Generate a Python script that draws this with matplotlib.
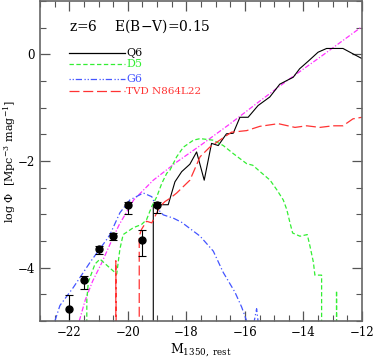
import numpy as np
import matplotlib.pyplot as plt
from matplotlib.ticker import MultipleLocator

plt.rcParams['font.family'] = ['DejaVu Serif']
plt.rcParams['mathtext.fontset'] = 'dejavuserif'

# Q6 (black solid)
q6_x = [-19.13, -19.13, -18.62, -18.39, -18.16, -17.88, -17.65, -17.39, -17.14, -16.91,
        -16.63, -16.40, -16.17, -15.89, -15.55, -15.15, -14.81, -14.53, -14.35, -14.13,
        -13.84, -13.50, -13.21, -12.65, -12.31, -12.00]
q6_y = [-7.0, -2.82, -2.82, -2.39, -2.20, -2.06, -1.83, -2.36, -1.67, -1.71,
        -1.49, -1.48, -1.18, -1.18, -0.96, -0.80, -0.56, -0.48, -0.43, -0.27,
        -0.13, 0.04, 0.11, 0.11, 0.01, -0.08]

# D5 (green dashed)
d5_x = [-21.41, -21.40, -21.35, -21.12, -20.95, -20.38, -20.27, -20.16, -19.81, -19.53,
        -19.36, -19.18, -19.01, -18.84, -18.67, -18.56, -18.33, -18.10, -17.76, -17.53,
        -17.08, -16.74, -16.40, -15.94, -15.73, -15.48, -15.14, -14.91, -14.69, -14.57,
        -14.46, -14.37, -14.12, -13.87, -13.78, -13.66, -13.61, -13.38, -13.38, -12.87,
        -12.87, -12.86]
d5_y = [-7.0, -4.60, -4.27, -3.93, -3.84, -4.12, -3.65, -3.38, -3.25, -3.19,
        -3.10, -2.85, -2.67, -2.42, -2.23, -2.17, -1.92, -1.74, -1.61, -1.58,
        -1.61, -1.71, -1.86, -2.05, -2.08, -2.20, -2.36, -2.54, -2.73, -2.91,
        -3.16, -3.35, -3.41, -3.38, -3.59, -3.90, -4.14, -4.14, -7.0, -7.0,
        -4.43, -7.0]

# G6 (blue dash-dot)
g6_x = [-22.49, -22.32, -21.86, -21.29, -20.72, -20.61, -20.27, -19.93, -19.47, -19.18,
        -19.01, -18.79, -18.45, -18.16, -17.53, -17.08, -16.74, -16.34, -16.11, -15.94,
        -15.75, -15.60, -15.51]
g6_y = [-5.0, -4.71, -4.37, -3.90, -3.47, -3.38, -2.97, -2.73, -2.60, -2.67,
        -2.88, -3.01, -3.07, -3.15, -3.41, -3.69, -4.09, -4.46, -4.74, -5.0,
        -5.2, -4.77, -5.2]

# TVD N864L22 (red long dashed)
tvd_x = [-20.41, -20.41, -20.38, -19.61, -19.61, -19.53, -19.36, -19.18, -19.01, -18.90,
         -18.73, -18.56, -18.33, -17.88, -17.53, -17.20, -16.86, -16.46, -15.94, -15.49,
         -14.86, -14.29, -13.89, -13.44, -12.99, -12.65, -12.31, -12.00]
tvd_y = [-7.0, -3.87, -7.0, -7.0, -3.41, -3.28, -3.13, -3.16, -2.97, -2.85,
         -2.76, -2.70, -2.60, -2.36, -1.92, -1.74, -1.61, -1.46, -1.43, -1.35,
         -1.30, -1.37, -1.34, -1.37, -1.34, -1.34, -1.21, -1.18]

# fit (magenta dash-dot)
fit_x = [-21.66, -21.45, -21.20, -20.90, -20.60, -20.30, -19.80, -19.13, -18.33, -17.50,
         -16.50, -15.50, -14.50, -13.50, -12.00]
fit_y = [-5.0, -4.60, -4.25, -3.92, -3.55, -3.20, -2.73, -2.36, -2.02, -1.70,
         -1.30, -0.88, -0.47, -0.08, 0.52]

# observed points
obs_x = [-22.00, -21.51, -21.00, -20.51, -20.01, -19.52, -19.01]
obs_y = [-4.78, -4.24, -3.65, -3.41, -2.82, -3.49, -2.82]
obs_hi = [-4.52, -4.15, -3.59, -3.35, -2.77, -3.30, -2.76]
obs_lo = [-5.30, -4.40, -3.75, -3.48, -2.99, -3.79, -2.97]

fig = plt.figure(figsize=(3.74, 3.57), dpi=100)
ax = fig.add_axes([40/374, 36/357, 322/374, 320/357])

ax.plot(fit_x, fit_y, color='#ff33ff', lw=0.9, dashes=(4, 1.5, 1, 1.5))
ax.plot(q6_x, q6_y, color='black', lw=0.8)
ax.plot(d5_x, d5_y, color='#33ee33', lw=0.9, dashes=(3.5, 2))
ax.plot(g6_x, g6_y, color='#4455ff', lw=0.9, dashes=(5, 2, 1, 2))
ax.plot(tvd_x, tvd_y, color='#ff3333', lw=0.9, dashes=(8, 3))

yerr = [np.array(obs_y) - np.array(obs_lo), np.array(obs_hi) - np.array(obs_y)]
ax.errorbar(obs_x, obs_y, yerr=yerr, fmt='o', color='black', ms=5,
            elinewidth=0.8, capsize=3, capthick=0.8)

# hand-drawn key
ax.text(-22.0, 0.52, 'z=6    E(B$-$V)=0.15', fontsize=10, va='center', ha='left')
key_y = [0.02, -0.19, -0.47, -0.69]
key_lab = ['Q6', 'D5', 'G6', 'TVD N864L22']
key_col = ['black', '#33ee33', '#4455ff', '#ff3333']
key_dash = [None, (3.5, 2), (1, 1.5, 1, 1.5, 5, 2), (8, 3)]
for yy, lab, col, dsh in zip(key_y, key_lab, key_col, key_dash):
    ln, = ax.plot([-22.0, -20.1], [yy, yy], color=col, lw=0.9)
    if dsh is not None:
        ln.set_dashes(dsh)
    ax.text(-20.05, yy, lab, color=col, va='center', ha='left',
            fontsize=8 if lab != 'TVD N864L22' else 7.5)

ax.set_xlim(-23, -12)
ax.set_ylim(-5, 1)
ax.xaxis.set_major_locator(MultipleLocator(2))
ax.xaxis.set_minor_locator(MultipleLocator(0.5))
ax.yaxis.set_major_locator(MultipleLocator(2))
ax.yaxis.set_minor_locator(MultipleLocator(0.5))
ax.tick_params(which='both', direction='in', top=True, right=True,
               color='#555555', labelsize=8.5)
ax.tick_params(which='major', length=7, width=0.9)
ax.tick_params(which='minor', length=4, width=0.8)
for s in ax.spines.values():
    s.set_color('#666666')
    s.set_linewidth(1.2)

ax.set_xlabel(r'M$_{\mathregular{1350,\ rest}}$', fontsize=9, labelpad=2)
ax.set_ylabel(r'log $\Phi$  [Mpc$^{-3}$ mag$^{-1}$]', fontsize=8)
ax.yaxis.set_label_coords(-0.068, 0.5)

fig.savefig('out.png', dpi=100)
